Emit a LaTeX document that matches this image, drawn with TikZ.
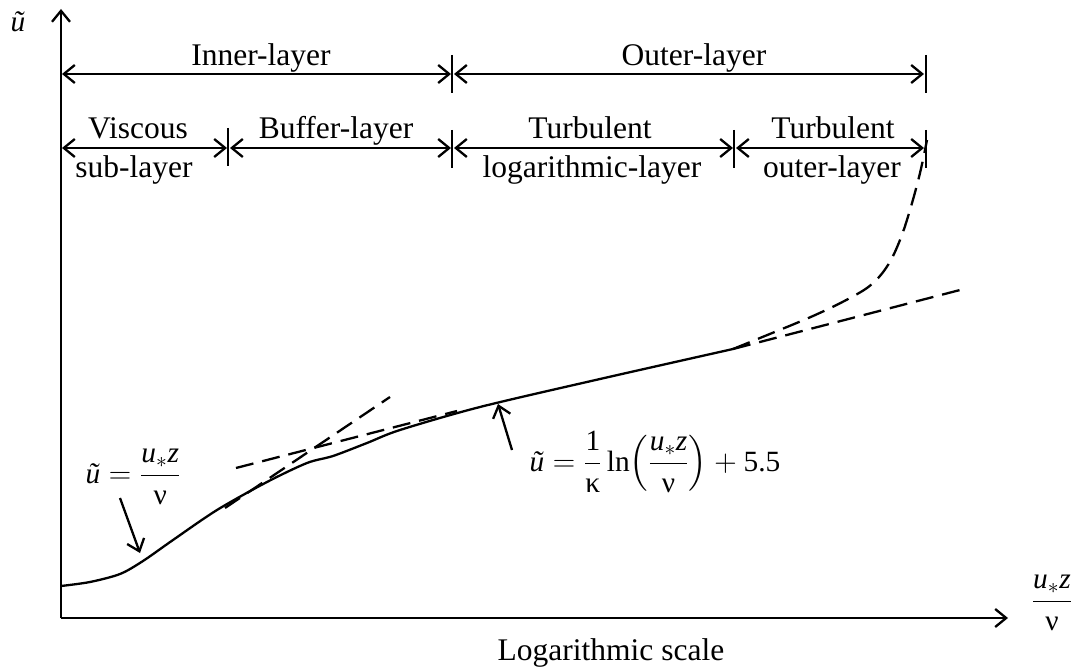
\documentclass[tikz,border=0pt]{standalone}
\usepackage{amsmath}
\usepackage{fontspec}
\setmainfont{Liberation Serif}
\usetikzlibrary{arrows.meta}
\begin{document}
\begin{tikzpicture}[x=0.8pt,y=-0.8pt,line width=1.84pt,
  tip/.tip={Straight Barb[length=8.8pt,width=14.4pt]},
  dimarrow/.style={tip-tip},
  onearrow/.style={-tip},
  dashline/.style={dash pattern=on 14.4pt off 7.2pt},
  lbl/.style={anchor=base,inner sep=0pt,font=\fontsize{25.2}{29}\selectfont},
  mth/.style={inner sep=0pt,font=\fontsize{23.5}{28}\selectfont}]
\useasboundingbox (0,0) rectangle (1079,669);
% axes
\coordinate (O) at (61,618);
\coordinate (ytop) at (61,9);
\coordinate (xend) at (1008,618);
\draw[onearrow] (O) -- (ytop);
\draw[onearrow] (O) -- (xend);
\node[mth] (ylab) at (18,22) {\textit{ũ}};
\node[mth] (xlab) at (1052,603) {$\dfrac{\textit{u}_{*}\textit{z}}{\text{ν}}$};
\node[lbl] (logscale) at (611,660) {Logarithmic scale};
% row 1
\coordinate (r1a) at (62,74);
\coordinate (r1b) at (451,74);
\coordinate (r1c) at (454,74);
\coordinate (r1d) at (924,74);
\draw[dimarrow] (r1a) -- (r1b);
\draw[dimarrow] (r1c) -- (r1d);
\coordinate (t1a) at (452,55); \coordinate (t1b) at (452,93);
\coordinate (t2a) at (926,55); \coordinate (t2b) at (926,93);
\draw (t1a) -- (t1b);
\draw (t2a) -- (t2b);
\node[lbl] (inner) at (261,66) {Inner-layer};
\node[lbl] (outer) at (694,66) {Outer-layer};
% row 2
\coordinate (r2a) at (62,148);
\coordinate (r2b) at (227,148);
\coordinate (r2c) at (230,148);
\coordinate (r2d) at (451,148);
\coordinate (r2e) at (454,148);
\coordinate (r2f) at (733,148);
\coordinate (r2g) at (736,148);
\coordinate (r2h) at (924,148);
\draw[dimarrow] (r2a) -- (r2b);
\draw[dimarrow] (r2c) -- (r2d);
\draw[dimarrow] (r2e) -- (r2f);
\draw[dimarrow] (r2g) -- (r2h);
\coordinate (s1a) at (228,128); \coordinate (s1b) at (228,166);
\coordinate (s2a) at (452,130); \coordinate (s2b) at (452,168);
\coordinate (s3a) at (734,130); \coordinate (s3b) at (734,168);
\coordinate (s4a) at (926,130); \coordinate (s4b) at (926,168);
\draw (s1a) -- (s1b);
\draw (s2a) -- (s2b);
\draw (s3a) -- (s3b);
\draw (s4a) -- (s4b);
\node[lbl] (visc1) at (138,139) {Viscous};
\node[lbl] (visc2) at (134,178) {sub-layer};
\node[lbl] (buff) at (336,139) {Buffer-layer};
\node[lbl] (turb1) at (590,139) {Turbulent};
\node[lbl] (turb2) at (592,178) {logarithmic-layer};
\node[lbl] (outl1) at (833,139) {Turbulent};
\node[lbl] (outl2) at (832,178) {outer-layer};
% solid profile
\draw[line join=round] plot[smooth,tension=0.5] coordinates {(61,586) (90,582) (120,574) (143,561) (173,540) (217,510) (267,482) (307,463) (333,456) (367,443) (400,430) (480,407) (600,379) (733,349)};
% dashed tangents
\coordinate (vt1) at (225,508);
\coordinate (vt2) at (390,397);
\draw[dashline] (vt1) -- (vt2);
\coordinate (lt1) at (236,468);
\coordinate (lt2) at (457,411);
\draw[dashline] (lt1) -- (lt2);
\coordinate (rt1) at (733,349);
\coordinate (rt2) at (960,290);
\draw[dashline] (rt1) -- (rt2);
\draw[dashline] plot[smooth,tension=0.6] coordinates {(733,349) (760,338) (813,316) (850,298) (872,284) (888,265) (900,240) (910,210) (920,173) (927,140)};
% annotations
\node[mth] (f1) at (133,477) {$\text{\textit{ũ}} = \dfrac{\textit{u}_{*}\textit{z}}{\text{ν}}$};
\coordinate (a1s) at (120,498);
\coordinate (a1e) at (140,553);
\draw[onearrow] (a1s) -- (a1e);
\node[mth] (f2) at (655,462) {$\text{\textit{ũ}} = \dfrac{\text{1}}{\text{κ}}\,\text{ln}\!\left(\dfrac{\textit{u}_{*}\textit{z}}{\text{ν}}\right) + \text{5.5}$};
\coordinate (a2s) at (512,450);
\coordinate (a2e) at (498,404);
\draw[onearrow] (a2s) -- (a2e);
\end{tikzpicture}
\end{document}
